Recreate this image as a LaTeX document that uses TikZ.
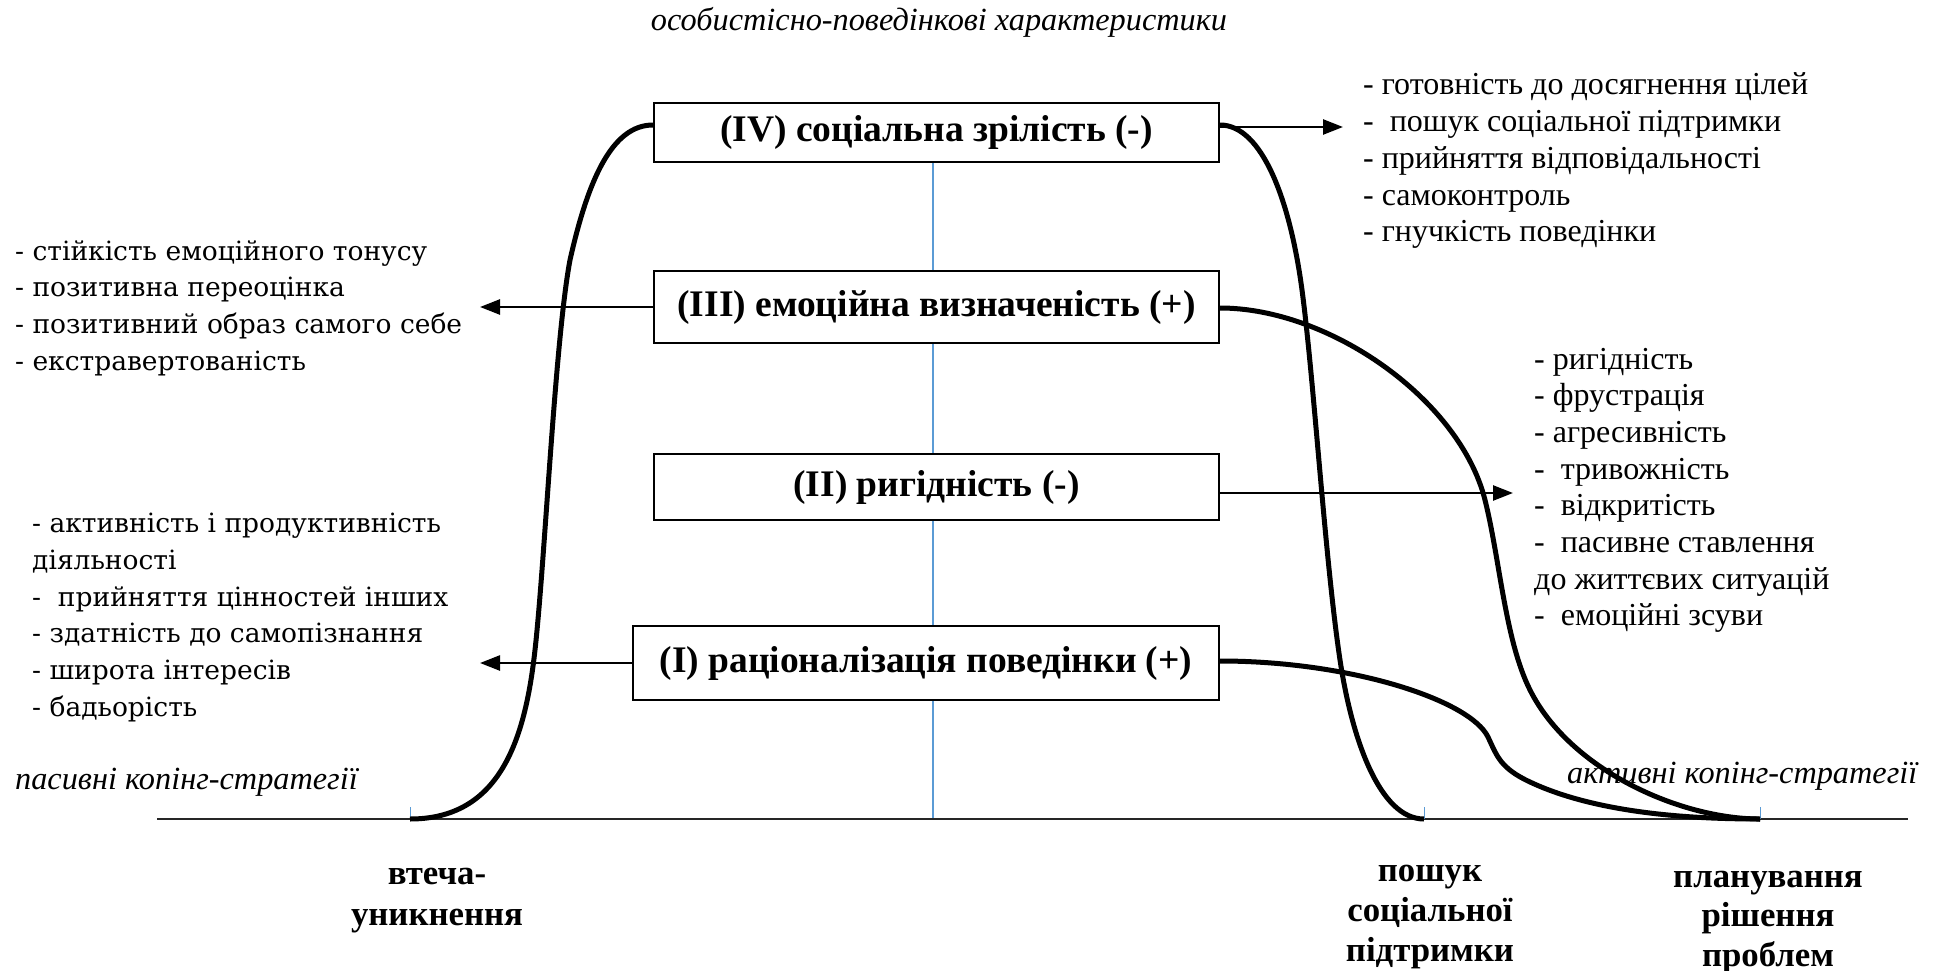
\documentclass[tikz,border=0pt]{standalone}
\usepackage{fontspec}
\setmainfont{Liberation Serif}
\newfontfamily\camb{DejaVu Serif}
\usetikzlibrary{arrows.meta}
\definecolor{lblue}{HTML}{5B9BD5}
\begin{document}
\begin{tikzpicture}[x=1pt,y=-1pt,
  boxst/.style={draw, line width=2pt, fill=white, inner sep=0pt, font=\fontsize{37.5}{42}\selectfont\bfseries},
  curvest/.style={line width=5pt},
  arrst/.style={line width=2.5pt, -{Triangle[length=20pt,width=15pt]}},
  rlist/.style={anchor=base west, inner sep=0pt, font=\fontsize{32}{37}\selectfont},
  llist/.style={anchor=base west, inner sep=0pt, font=\fontsize{26.5}{37}\camb},
  botl/.style={anchor=base, inner sep=0pt, font=\fontsize{34.8}{41}\selectfont\bfseries},
  ital/.style={inner sep=0pt, font=\fontsize{32.3}{38}\selectfont\itshape},
  tickst/.style={lblue, line width=1pt},
]
\useasboundingbox (0,0) rectangle (1941,971);

% axis and blue guide lines
\coordinate (axL) at (157,819);
\coordinate (axR) at (1908,819);
\coordinate (tA) at (410,819);
\coordinate (tB) at (1424,819);
\coordinate (tC) at (1760,819);
\coordinate (tM) at (933,819);
\coordinate (vTop) at (933,162);
\draw[lblue, line width=1.2pt] (vTop) -- (tM);
\draw[line width=1.5pt, black!85] (axL) -- (axR);
\draw[tickst] (tA) -- ++(0,-12);
\draw[tickst] (tB) -- ++(0,-12);
\draw[tickst] (tC) -- ++(0,-12);

% boxes
\node[boxst, minimum width=565pt, minimum height=59pt] (IV) at (936.5,132.5) {(IV) соціальна зрілість (-)};
\node[boxst, minimum width=565pt, minimum height=72pt] (III) at (936.5,307) {(III) емоційна визначеність (+)};
\node[boxst, minimum width=565pt, minimum height=66pt] (II) at (936.5,487) {(II) ригідність (-)};
\node[boxst, minimum width=586pt, minimum height=74pt] (I) at (926,663) {(I) раціоналізація поведінки (+)};

% thick curves
\draw[curvest] ([yshift=7.5pt]IV.west) .. controls (612,125) and (588,180) .. (570,260)
  .. controls (555,340) and (545,560) .. (535,650)
  .. controls (525,740) and (500,819) .. (tA);
\draw[curvest] ([yshift=7.5pt]IV.east) .. controls (1262,125) and (1290,200) .. (1302,290)
  .. controls (1314,380) and (1325,560) .. (1340,660)
  .. controls (1352,740) and (1380,819) .. (tB);
\draw[curvest] ([yshift=-1pt]III.east) .. controls (1330,308) and (1460,400) .. (1485,500)
  .. controls (1500,560) and (1505,640) .. (1530,690)
  .. controls (1570,770) and (1680,819) .. (tC);
\draw[curvest] ([yshift=2pt]I.east) .. controls (1350,661) and (1470,700) .. (1488,737)
  .. controls (1497,756) and (1500,768) .. (1530,782)
  .. controls (1600,815) and (1700,819) .. (tC);

% arrows
\coordinate (IVr) at (1343,127);
\coordinate (IIIl) at (480,307);
\coordinate (IIr) at (1513,493);
\coordinate (Il) at (480,663);
\draw[arrst] ([yshift=5.5pt]IV.east) -- (IVr);
\draw[arrst] (III.west) -- (IIIl);
\draw[arrst] ([yshift=-6pt]II.east) -- (IIr);
\draw[arrst] (I.west) -- (Il);

% lists
\foreach \t [count=\i] in {- готовність до досягнення цілей, -\ \ пошук соціальної підтримки, - прийняття відповідальності, - самоконтроль, - гнучкість поведінки}
  \node[rlist] (rt\i) at (1363,{58.3+36.7*\i}) {\t};
\foreach \t [count=\i] in {- ригідність, - фрустрація, - агресивність, -\ \ тривожність, -\ \ відкритість, -\ \ пасивне ставлення, до життєвих ситуацій, -\ \ емоційні зсуви}
  \node[rlist] (rm\i) at (1534,{332.3+36.7*\i}) {\t};
\foreach \t [count=\i] in {- стійкість емоційного тонусу, - позитивна переоцінка, - позитивний образ самого себе, - екстравертованість}
  \node[llist] (lt\i) at (15,{223.2+36.8*\i}) {\t};
\foreach \t [count=\i] in {- активність і продуктивність, діяльності, -\ \ прийняття цінностей інших, - здатність до самопізнання, - широта інтересів, - бадьорість}
  \node[llist] (lb\i) at (32,{495.7+36.8*\i}) {\t};

% italic labels
\node[ital, anchor=base] (title) at (939,31) {особистісно-поведінкові характеристики};
\node[ital, anchor=base west] (pas) at (15,789) {пасивні копінг-стратегії};
\node[ital, anchor=base west] (act) at (1567,783) {активні копінг-стратегії};

% bottom labels
\node[botl] (b1a) at (437,884) {втеча-};
\node[botl] (b1b) at (437,925) {уникнення};
\node[botl] (b2a) at (1430,881) {пошук};
\node[botl] (b2b) at (1430,921) {соціальної};
\node[botl] (b2c) at (1430,961) {підтримки};
\node[botl] (b3a) at (1768,887) {планування};
\node[botl] (b3b) at (1768,926) {рішення};
\node[botl] (b3c) at (1768,966) {проблем};
\end{tikzpicture}
\end{document}
